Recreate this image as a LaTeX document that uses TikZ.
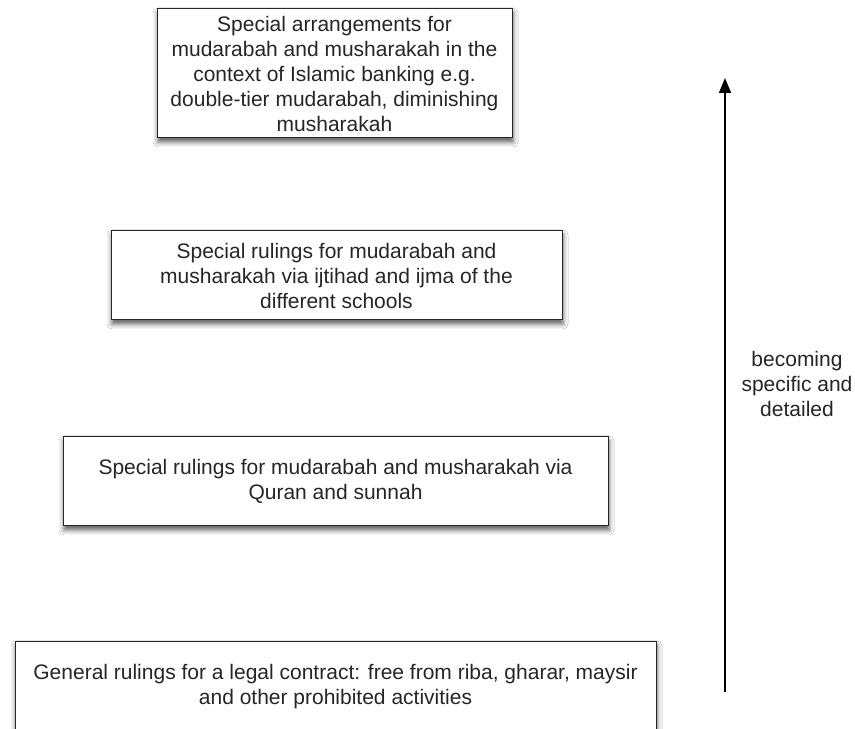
\documentclass[tikz,border=0pt]{standalone}
\usepackage{fontspec}
\setmainfont{Liberation Sans}
\usetikzlibrary{arrows.meta,shadows.blur}
\tikzset{
  levelbox/.style={draw=black!85, line width=1pt, fill=white, align=center,
    inner sep=0pt, text=black!85, font=\fontsize{21}{25}\selectfont,
    blur shadow={shadow xshift=1pt, shadow yshift=-4pt, shadow blur radius=5pt, shadow opacity=65}},
  sidelabel/.style={align=center, inner sep=0pt, text=black!85, font=\fontsize{21}{25}\selectfont},
  uparrow/.style={draw=black, line width=1.6pt, -{Triangle[length=15pt,width=12pt]}}
}
\begin{document}
\begin{tikzpicture}[x=1pt,y=1pt]
\clip (0,0) rectangle (855,729);
\fill[white] (0,0) rectangle (855,729);
\node[levelbox, minimum width=355, minimum height=129] (b1) at (334.5,655.5)
  {Special arrangements for\\mudarabah and musharakah in the\\context of Islamic banking e.g.\\double-tier mudarabah, diminishing\\musharakah};
\node[levelbox, minimum width=451, minimum height=89] (b2) at (336.5,453.5)
  {Special rulings for mudarabah and\\musharakah via ijtihad and ijma of the\\different schools};
\node[levelbox, minimum width=545, minimum height=89] (b3) at (335.5,247.5)
  {Special rulings for mudarabah and musharakah via\\Quran and sunnah};
\node[levelbox, minimum width=641, minimum height=89] (b4) at (335.5,42.5)
  {General rulings for a legal contract: free from riba, gharar, maysir\\and other prohibited activities};
\coordinate (a1) at (725,37);
\coordinate (a2) at (725,651);
\draw[uparrow] (a1) -- (a2);
\node[sidelabel] (lab) at (797,345) {becoming\\specific and\\detailed};
\end{tikzpicture}
\end{document}
